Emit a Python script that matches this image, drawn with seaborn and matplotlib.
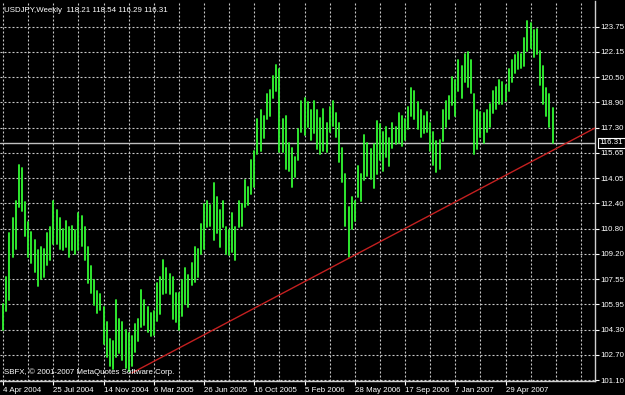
import numpy as np
import pandas as pd
import matplotlib
matplotlib.use("Agg")
import matplotlib.pyplot as plt
import seaborn as sns
from matplotlib import font_manager
from matplotlib.transforms import blended_transform_factory

# ---------------- data ----------------
high = [106.0, 107.7, 110.5, 111.5, 112.6, 114.9, 114.7, 112.5, 111.2, 110.6,
        110.1, 109.4, 109.6, 109.5, 110.5, 110.9, 112.6, 112.0, 111.5, 110.8,
        111.3, 110.9, 111.0, 110.7, 111.8, 111.6, 110.9, 109.6, 108.4, 107.5,
        106.8, 106.6, 105.8, 104.8, 103.7, 103.6, 106.2, 105.0, 104.8, 104.3,
        104.1, 103.9, 104.7, 105.0, 106.9, 106.2, 105.8, 105.4, 105.5, 107.3,
        107.7, 108.8, 108.3, 107.9, 107.7, 106.7, 106.7, 107.5, 108.3, 107.8,
        108.6, 109.6, 109.5, 111.1, 112.4, 112.6, 112.3, 113.7, 112.8, 112.0,
        112.6, 110.9, 110.7, 111.8, 110.9, 112.6, 112.4, 113.9, 113.5, 115.2,
        115.8, 117.8, 118.4, 118.0, 119.4, 119.7, 120.6, 121.3, 121.0, 117.8,
        118.0, 116.3, 116.0, 115.4, 117.2, 119.0, 119.2, 118.9, 118.4, 119.0,
        118.4, 117.9, 118.5, 117.6, 118.6, 119.0, 118.2, 117.6, 116.0, 114.3,
        112.2, 112.8, 112.6, 114.8, 114.3, 116.8, 116.3, 115.9, 116.2, 117.7,
        117.5, 117.0, 117.3, 116.6, 117.6, 117.3, 118.2, 118.0, 117.8, 118.6,
        119.8, 119.6, 118.9, 118.4, 118.0, 118.3, 117.6, 117.0, 116.4, 116.5,
        118.4, 119.0, 119.3, 120.5, 120.3, 121.6, 121.2, 122.0, 122.1, 121.6,
        119.4, 118.4, 118.3, 118.2, 118.4, 118.8, 119.6, 119.9, 120.3, 120.2,
        120.0, 121.0, 121.6, 121.9, 122.1, 122.0, 123.0, 124.1, 124.0, 123.5,
        123.6, 122.2, 121.2, 119.8, 119.4, 118.54]
low = [104.3, 105.5, 106.2, 109.0, 109.5, 112.2, 111.9, 110.3, 109.0, 108.6,
       108.0, 107.1, 107.6, 107.7, 108.5, 108.8, 109.8, 109.8, 109.5, 109.4,
       109.6, 109.0, 109.4, 109.2, 109.4, 109.7, 108.8, 107.3, 106.7, 105.9,
       105.4, 105.6, 103.4, 102.6, 102.0, 101.8, 102.6, 102.8, 102.4, 101.9,
       101.7, 102.0, 102.9, 103.6, 104.5, 104.6, 104.2, 103.9, 104.0, 104.9,
       105.3, 106.6, 106.7, 106.6, 105.0, 104.8, 104.3, 105.2, 106.0, 105.8,
       107.2, 107.4, 107.7, 109.2, 109.5, 110.9, 111.0, 110.1, 110.5, 109.6,
       110.9, 109.2, 109.1, 109.3, 108.8, 110.9, 111.0, 112.2, 112.3, 113.0,
       113.5, 115.6, 115.8, 116.6, 117.8, 118.0, 119.2, 119.6, 115.7, 115.7,
       114.6, 114.5, 113.5, 114.1, 115.2, 117.0, 116.8, 117.3, 116.5, 116.9,
       115.9, 115.6, 115.8, 115.7, 117.0, 117.4, 116.7, 115.1, 113.8, 111.0,
       109.0, 110.8, 111.3, 112.8, 112.6, 113.9, 114.2, 114.0, 113.4, 114.3,
       115.2, 114.5, 115.4, 114.8, 116.0, 116.2, 116.3, 116.1, 116.5, 117.2,
       118.0, 117.8, 117.2, 116.7, 116.9, 117.0, 115.8, 114.9, 114.4, 114.6,
       116.4, 117.3, 117.8, 118.7, 118.0, 119.6, 119.2, 120.2, 119.9, 119.5,
       115.6, 115.9, 116.7, 116.3, 117.0, 117.3, 118.2, 118.5, 118.8, 118.8,
       119.0, 119.6, 120.2, 120.8, 121.0, 121.1, 121.2, 122.2, 122.4, 121.8,
       122.0, 120.0, 118.8, 118.0, 117.3, 116.29]
weeks = list(range(len(high)))

date_ticks = [0, 16, 32, 48, 64, 80, 96, 112, 128, 144, 160]
date_labels = ["4 Apr 2004", "25 Jul 2004", "14 Nov 2004", "6 Mar 2005",
               "26 Jun 2005", "16 Oct 2005", "5 Feb 2006", "28 May 2006",
               "17 Sep 2006", "7 Jan 2007", "29 Apr 2007"]
price_labels = ["101.10", "102.70", "104.30", "105.95", "107.55", "109.20",
                "110.80", "112.40", "114.05", "115.65", "117.30", "118.90",
                "120.50", "122.15", "123.75"]
last_ohlc = [118.21, 118.54, 116.29, 116.31]
trend_x = [41.0, 188.5]
trend_y = [101.55, 117.25]

title_text = "USDJPY,Weekly  118.21 118.54 116.29 116.31"
copyright_text = "SBFX, \u00a9 2001-2007 MetaQuotes Software Corp."

# ---------------- style ----------------
sns.set_theme(style="dark", rc={"axes.facecolor": "black",
                                "figure.facecolor": "black"})
avail = {f.name for f in font_manager.fontManager.ttflist}
fam = "Liberation Sans Narrow" if "Liberation Sans Narrow" in avail else "Liberation Sans"
plt.rcParams["font.family"] = [fam, "DejaVu Sans"]
fs = 6.4 if fam == "Liberation Sans Narrow" else 5.7

fig = plt.figure(figsize=(6.25, 3.95), dpi=100)
ax = fig.add_axes([0.0, 14 / 395, 595 / 625, 1 - 15 / 395])
ax.set_facecolor("black")

# grid
grid_col = "#c8c8c8"
price_ticks = np.linspace(101.10, 123.75, len(price_labels))
for yv in price_ticks:
    ax.axhline(yv, color=grid_col, lw=0.8, ls=(0, (1.8, 1.8)), zorder=0)
for xv in range(0, 189, 8):
    ax.axvline(xv, color=grid_col, lw=0.8, ls=(0, (1.8, 1.8)), zorder=0)

# current price line
ax.axhline(last_ohlc[3], color="#c0c0c0", lw=1.0, zorder=1)

# bars (high-low) drawn through seaborn
df = pd.DataFrame({
    "week": weeks * 2,
    "price": low + high,
    "bar": weeks * 2,
})
sns.lineplot(data=df, x="week", y="price", units="bar", estimator=None,
             sort=False, color="#30f030", lw=1.35, ax=ax, legend=False, zorder=2)

# trend line
sns.lineplot(x=trend_x, y=trend_y, color="#c42020", lw=1.0, ax=ax,
             legend=False, zorder=3)

ax.set_xlim(-1, 188.5)
ax.set_ylim(101.036, 125.39)
ax.set_xlabel("")
ax.set_ylabel("")

# axes / spines
for s in ["left", "top"]:
    ax.spines[s].set_visible(False)
for s in ["right", "bottom"]:
    ax.spines[s].set_visible(True)
    ax.spines[s].set_color("#d0d0d0")
    ax.spines[s].set_linewidth(1.0)

ax.yaxis.tick_right()
ax.set_yticks(price_ticks)
ax.set_yticklabels(price_labels)
ax.set_xticks(date_ticks)
ax.set_xticklabels(date_labels, ha="left")
ax.tick_params(axis="both", colors="white", labelsize=fs, length=3,
               width=0.8, direction="out")
ax.tick_params(axis="y", pad=1.2, left=False, right=True)
ax.tick_params(axis="x", pad=1.0, bottom=True)
for lbl in ax.get_xticklabels():
    lbl.set_color("white")
for lbl in ax.get_yticklabels():
    lbl.set_color("white")
ax.grid(False)

# current price box on the right axis
tr = blended_transform_factory(ax.transAxes, ax.transData)
ax.text(1.008, last_ohlc[3], "116.31", transform=tr, color="white",
        fontsize=fs, va="center", ha="left", clip_on=False,
        bbox=dict(boxstyle="square,pad=0.18", fc="black", ec="white", lw=0.8))

# texts
ax.text(0.006, 0.985, title_text, transform=ax.transAxes, color="white",
        fontsize=fs, va="top", ha="left")
ax.text(0.006, 0.012, copyright_text, transform=ax.transAxes, color="white",
        fontsize=fs, va="bottom", ha="left")

fig.savefig("out.png", dpi=100, facecolor="black")
